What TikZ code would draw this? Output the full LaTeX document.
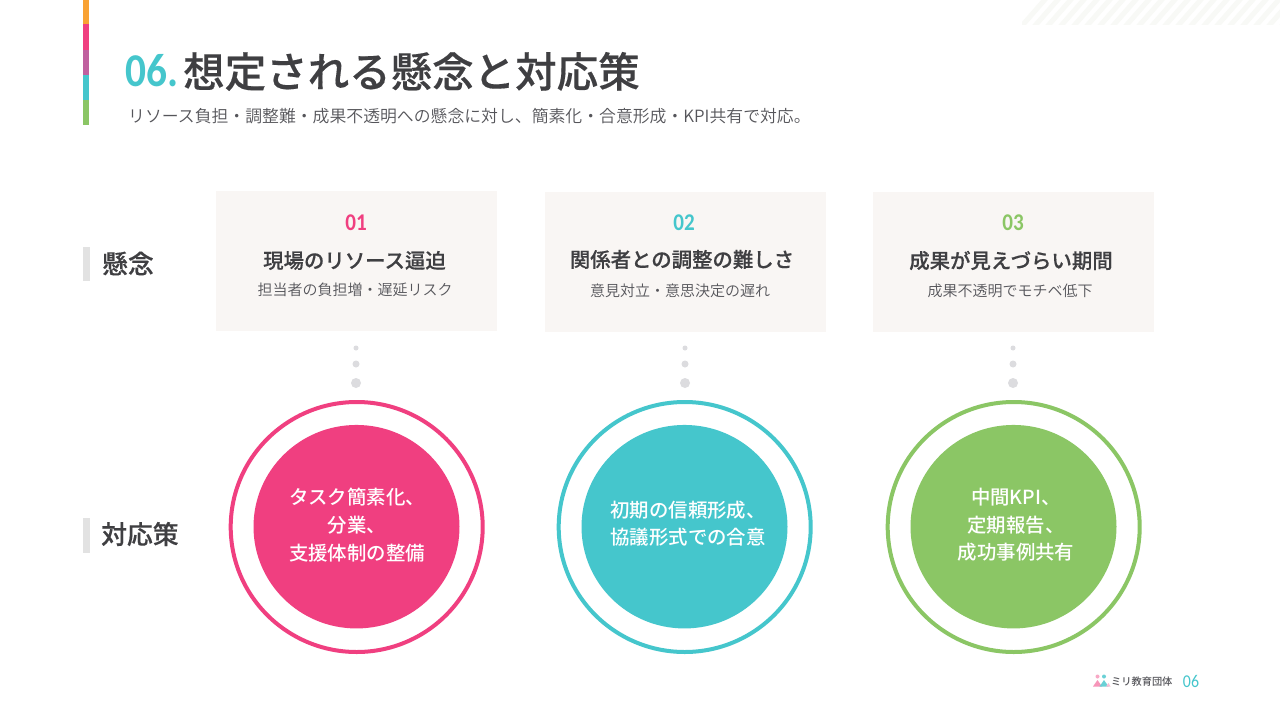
\documentclass[tikz,border=0pt]{standalone}
\usepackage{fontspec}
\usetikzlibrary{shapes.geometric}
\setmainfont{Noto Sans CJK JP}[UprightFont={* DemiLight},BoldFont={* Medium}]
\newfontfamily\numfont{Carlito}[FakeStretch=0.88]
\newfontfamily\heavyfont{Noto Sans CJK JP Medium}[FakeBold=0.35]
\definecolor{cpink}{HTML}{F03F80}
\definecolor{cteal}{HTML}{45C6CC}
\definecolor{cgreen}{HTML}{8BC665}
\definecolor{corange}{HTML}{F9A233}
\definecolor{cmauve}{HTML}{C0609F}
\definecolor{cink}{HTML}{3F3F42}
\definecolor{csub}{HTML}{55555A}
\definecolor{ccard}{HTML}{F9F6F4}
\definecolor{cdot}{HTML}{DCDCDF}
\definecolor{cbar}{HTML}{E2E2E2}
\definecolor{cstripe}{HTML}{F8F9F6}
\tikzset{
  x=1pt,y=-1pt,
  title/.style={inner sep=0pt,anchor=west,text=cink,font=\heavyfont\fontsize{41.5}{50}\selectfont},
  subt/.style={inner sep=0pt,anchor=west,text=csub,font=\fontsize{16.85}{20}\selectfont},
  side/.style={inner sep=0pt,anchor=west,text=cink,font=\heavyfont\fontsize{25.8}{30}\selectfont},
  card/.style={fill=ccard,draw=none,minimum width=281pt,minimum height=140pt,inner sep=0pt},
  num/.style={inner sep=0pt,text=#1,font=\numfont\fontsize{24}{26}\selectfont\bfseries},
  head/.style={inner sep=0pt,text=cink,font=\heavyfont\fontsize{20.4}{24}\selectfont},
  desc/.style={inner sep=0pt,text=csub,font=\fontsize{15}{18}\selectfont},
  ring/.style={ellipse,draw=#1,line width=4pt,fill=white,minimum width=252pt,minimum height=250pt,inner sep=0pt},
  disc/.style={ellipse,fill=#1,minimum width=206pt,minimum height=203.5pt,inner sep=0pt},
  disctext/.style={inner sep=0pt,align=center,text=white,font=\fontsize{19.4}{27.6}\selectfont\bfseries},
  dotS/.style={circle,fill=cdot,minimum size=#1,inner sep=0pt},
}
\begin{document}
\begin{tikzpicture}
\useasboundingbox (0,0) rectangle (1280,720);
\fill[white] (0,0) rectangle (1280,720);
% top-right hatch
\begin{scope}
\clip (1022,0) rectangle (1280,24);
\foreach \i in {0,...,22} {\draw[cstripe,line width=5pt] ({1020+\i*13},28) -- ({1048+\i*13},-4);}
\end{scope}
% colour bar
\fill[corange] (83,0) rectangle (89,24);
\fill[cpink] (83,24) rectangle (89,50);
\fill[cmauve] (83,50) rectangle (89,75);
\fill[cteal] (83,75) rectangle (89,100);
\fill[cgreen] (83,100) rectangle (89,125);
% title
\node[inner sep=0pt,anchor=west,text=cteal,font=\numfont\fontsize{47}{50}\selectfont\bfseries] (tnum) at (125.5,71) {06.};
\node[title] (ttl) at (183,71.5) {想定される懸念と対応策};
\node[subt] (sub) at (128,116) {リソース負担・調整難・成果不透明への懸念に対し、簡素化・合意形成・KPI共有で対応。};
% side labels
\fill[cbar] (83,247) rectangle (90,281);
\node[side] (l1) at (102,263.5) {懸念};
\fill[cbar] (83,518) rectangle (90,553);
\node[side] (l2) at (101,534) {対応策};
% cards
\node[card] (c1) at (356,260.5) {};
\node[card] (c2) at (685,261.5) {};
\node[card] (c3) at (1013,261.5) {};
\node[num=cpink] (n1) at (356,222.5) {01};
\node[num=cteal] (n2) at (684,222.5) {02};
\node[num=cgreen] (n3) at (1013,222.5) {03};
\node[head] (h1) at (354.5,260.5) {現場のリソース逼迫};
\node[head] (h2) at (682,259.5) {関係者との調整の難しさ};
\node[head] (h3) at (1011,260.5) {成果が見えづらい期間};
\node[desc] (d1) at (355,290) {担当者の負担増・遅延リスク};
\node[desc] (d2) at (680,291) {意見対立・意思決定の遅れ};
\node[desc] (d3) at (1010,291) {成果不透明でモチベ低下};
% dots
\foreach \n/\x in {a/356,b/685,c/1013} {
  \node[dotS=5pt] (\n1) at (\x,348) {};
  \node[dotS=7pt] (\n2) at (\x,364) {};
  \node[dotS=10pt] (\n3) at (\x,383) {};
}
% circles
\node[ring=cpink] (r1) at (356.7,527) {};
\node[ring=cteal] (r2) at (684.7,527) {};
\node[ring=cgreen] (r3) at (1013.7,527) {};
\node[disc=cpink] (s1) at (356.5,526.7) {};
\node[disc=cteal] (s2) at (684.5,526.7) {};
\node[disc=cgreen] (s3) at (1013.5,526.7) {};
\node[disctext] (t1) at (357,525) {タスク簡素化、\\分業、\\支援体制の整備};
\node[disctext] (t2) at (688,523.5) {初期の信頼形成、\\協議形式での合意};
\node[disctext] (t3) at (1016,525) {中間KPI、\\定期報告、\\成功事例共有};
% footer logo
\fill[cpink!55] (1093,686.5) -- (1097.5,680) -- (1102,686.5) -- cycle;
\fill[cteal!80] (1099.5,686.5) -- (1104,680) -- (1108.5,686.5) -- cycle;
\fill[cpink!35] (1106,686.5) -- (1108.5,683) -- (1110.5,686.5) -- cycle;
\fill[cpink!45] (1097.5,676.5) circle (2pt);
\fill[cteal!80] (1104,676.5) circle (2pt);
\node[inner sep=0pt,anchor=west,text=csub,font=\fontsize{10.2}{12}\selectfont\bfseries] (brand) at (1111,682) {ミリ教育団体};
\node[inner sep=0pt,text=cteal,font=\numfont\fontsize{18}{20}\selectfont] (pg) at (1191,681) {06};
\end{tikzpicture}
\end{document}
